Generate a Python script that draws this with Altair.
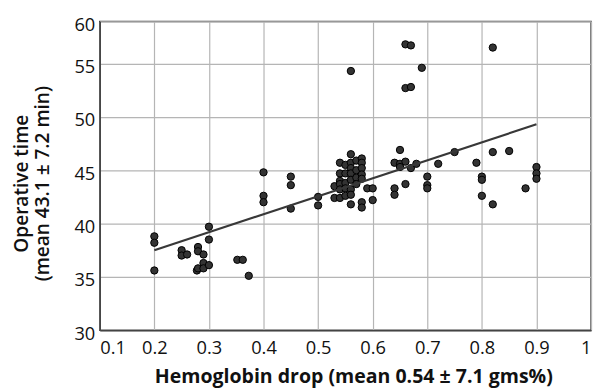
import altair as alt
import pandas as pd

hb_drop = [0.2, 0.2, 0.2, 0.25, 0.25, 0.26, 0.278, 0.28, 0.28, 0.28, 0.29, 0.29, 0.29,
           0.3, 0.3, 0.3, 0.352, 0.362, 0.373, 0.4, 0.4, 0.4,
           0.45, 0.45, 0.45, 0.5, 0.5, 0.53, 0.53,
           0.54, 0.54, 0.54, 0.54, 0.54, 0.54,
           0.55, 0.55, 0.55, 0.55, 0.55,
           0.56, 0.56, 0.56, 0.56, 0.56, 0.56, 0.56, 0.56, 0.56,
           0.57, 0.57, 0.57, 0.57,
           0.58, 0.58, 0.58, 0.58, 0.58, 0.58, 0.58,
           0.59, 0.6, 0.6, 0.64, 0.64, 0.64, 0.65, 0.65, 0.65,
           0.66, 0.66, 0.66, 0.66, 0.67, 0.67, 0.67, 0.68, 0.69,
           0.7, 0.7, 0.7, 0.72, 0.75, 0.79, 0.8, 0.8, 0.8,
           0.82, 0.82, 0.82, 0.85, 0.88, 0.9, 0.9, 0.9]
op_time = [38.8, 38.2, 35.6, 37.5, 37.0, 37.1, 35.6, 37.8, 37.4, 35.8, 37.1, 36.3, 35.8,
           39.7, 38.5, 36.1, 36.6, 36.6, 35.1, 44.8, 42.6, 42.0,
           44.4, 43.6, 41.4, 42.5, 41.7, 43.5, 42.4,
           45.7, 44.7, 44.0, 43.7, 43.2, 42.4,
           45.5, 44.7, 43.8, 43.3, 42.6,
           54.3, 46.5, 45.7, 45.2, 44.7, 44.1, 43.2, 42.7, 41.8,
           45.9, 45.0, 44.3, 43.7,
           46.1, 45.7, 45.2, 44.6, 44.2, 42.0, 41.5,
           43.3, 43.3, 42.2, 45.7, 43.3, 42.7, 46.9, 45.6, 45.3,
           56.8, 52.7, 45.8, 43.7, 56.7, 52.8, 45.2, 45.6, 54.6,
           44.4, 43.6, 43.3, 45.6, 46.7, 45.7, 44.4, 44.1, 42.6,
           56.5, 46.7, 41.8, 46.8, 43.3, 45.3, 44.7, 44.2]

fit_x = [0.2, 0.9]
fit_y = [37.5, 49.3]

x_ticks = [0.1, 0.2, 0.3, 0.4, 0.5, 0.6, 0.7, 0.8, 0.9, 1.0]
# the reference's top border carries the "60" label, although it sits ~59 on the gridline scale
y_top = 58.95
y_ticks = [30, 35, 40, 45, 50, 55, y_top]

pts = pd.DataFrame({"x": hb_drop, "y": op_time})
fit = pd.DataFrame({"x": fit_x, "y": fit_y})

FONT = "Open Sans"

xenc = alt.X("x:Q", scale=alt.Scale(domain=[0.1, 1.0], nice=False),
             axis=alt.Axis(values=x_ticks, format="~g", titleX=257,
                           title="Hemoglobin drop (mean 0.54 ± 7.1 gms%)"))
yenc = alt.Y("y:Q", scale=alt.Scale(domain=[30, y_top], nice=False),
             axis=alt.Axis(values=y_ticks, titleY=164,
                           labelExpr="datum.value > 58 ? '60' : datum.label",
                           title=["Operative time", "(mean 43.1 ± 7.2 min)"]))

points = alt.Chart(pts).mark_circle(size=55, color="#333333", opacity=1,
                                    stroke="#000000", strokeWidth=1).encode(x=xenc, y=yenc)
line = alt.Chart(fit).mark_line(color="#383838", strokeWidth=2.2).encode(x="x:Q", y="y:Q")

chart = alt.layer(points, line).properties(
    width=498, height=313,
    autosize=alt.AutoSizeParams(type="none"),
    padding={"left": 93, "top": 11, "right": 4, "bottom": 57},
).configure_view(
    stroke="#444444", strokeWidth=1.5
).configure_axis(
    grid=True, gridColor="#b5b5b5", gridWidth=1.2,
    domain=True, domainColor="#444444", domainWidth=1.5,
    ticks=False, labelFont=FONT, labelFontSize=18.5, labelColor="#111111",
    titleFont=FONT, titleColor="#111111",
).configure_axisX(
    labelPadding=9, titlePadding=10, titleFontSize=19.8, titleFontWeight="bold"
).configure_axisY(
    labelPadding=5, labelOffset=3, titlePadding=22, titleLineHeight=21,
    titleFontSize=19.3, titleFontWeight=600
)

chart.save("out.html", embed_options={"renderer": "svg", "actions": False})
